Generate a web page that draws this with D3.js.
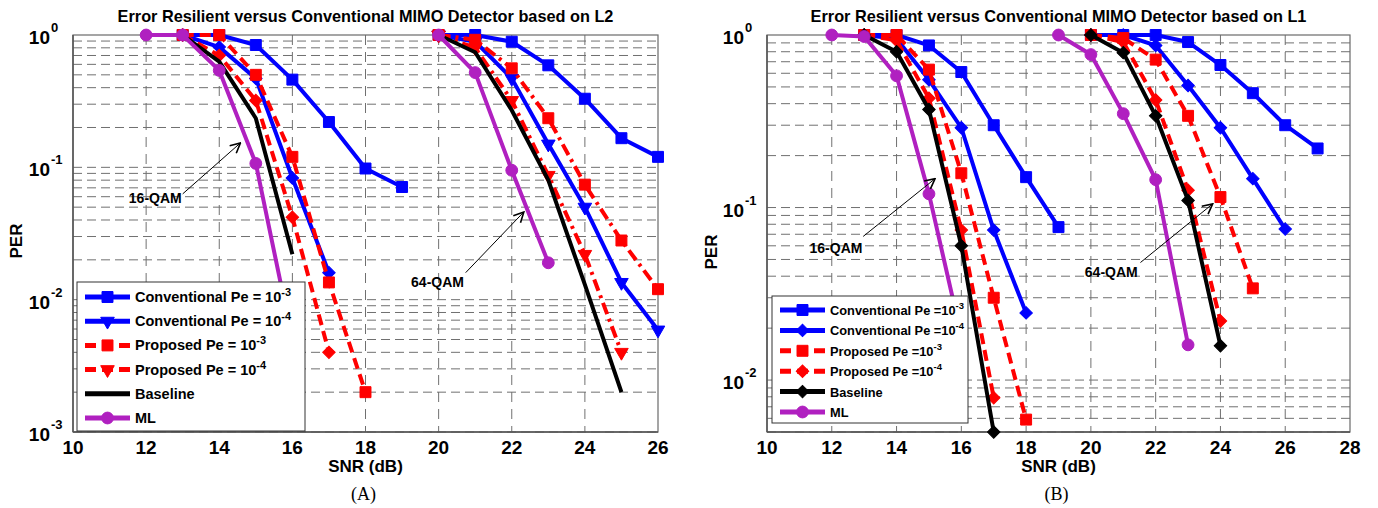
<!DOCTYPE html>
<html><head><meta charset="utf-8">
<script src="https://cdn.jsdelivr.net/npm/d3@7"></script>
<style>body{margin:0;background:#fff} svg{display:block}</style>
</head><body>
<svg id="c" width="1378" height="508"></svg>
<script>
// ---------- Panel A (L2) data: [SNR dB, PER] ----------
const a_conv3_16 = [[13,1],[14,1],[15,0.84],[16,0.46],[17,0.22],[18,0.098],[19,0.071]];
const a_conv3_64 = [[20,1],[21,1],[22,0.89],[23,0.59],[24,0.33],[25,0.166],[26,0.12]];
const a_conv4_16 = [[13,1],[14,0.81],[15,0.47],[16,0.083],[17,0.016]];
const a_conv4_64 = [[20,1],[21,0.89],[22,0.47],[23,0.15],[24,0.05],[25,0.0135],[26,0.0059]];
const a_prop3_16 = [[13,1],[14,1],[15,0.5],[16,0.12],[17,0.0135],[18,0.002]];
const a_prop3_64 = [[20,1],[21,0.92],[22,0.56],[23,0.235],[24,0.074],[25,0.028],[26,0.012]];
const a_prop4_16 = [[13,1],[14,0.7],[15,0.32],[16,0.042],[17,0.004]];
const a_prop4_64 = [[20,1],[21,0.8],[22,0.32],[23,0.087],[24,0.022],[25,0.004]];
const a_base_16  = [[13,1],[14,0.63],[15,0.235],[16,0.022]];
const a_base_64  = [[20,1],[21,0.74],[22,0.27],[23,0.08],[24,0.013],[25,0.002]];
const a_ml_16    = [[12,1],[13,1],[14,0.54],[15,0.107],[16,0.005]];
const a_ml_64    = [[20,1],[21,0.52],[22,0.095],[23,0.019]];

// ---------- Panel B (L1) data ----------
const b_conv3_16 = [[13,1],[14,1],[15,0.87],[16,0.61],[17,0.30],[18,0.15],[19,0.077]];
const b_conv3_64 = [[20,1],[21,1],[22,1],[23,0.91],[24,0.67],[25,0.46],[26,0.30],[27,0.22]];
const b_conv4_16 = [[13,1],[14,0.95],[15,0.55],[16,0.29],[17,0.074],[18,0.0245]];
const b_conv4_64 = [[20,1],[21,1],[22,0.87],[23,0.51],[24,0.29],[25,0.147],[26,0.075]];
const b_prop3_16 = [[13,1],[14,1],[15,0.63],[16,0.158],[17,0.030],[18,0.0059]];
const b_prop3_64 = [[20,1],[21,0.96],[22,0.72],[23,0.34],[24,0.115],[25,0.034]];
const b_prop4_16 = [[13,1],[14,0.93],[15,0.43],[16,0.074],[17,0.0079]];
const b_prop4_64 = [[20,1],[21,0.91],[22,0.42],[23,0.126],[24,0.022]];
const b_base_16  = [[13,1],[14,0.8],[15,0.37],[16,0.06],[17,0.005]];
const b_base_64  = [[20,1],[21,0.79],[22,0.34],[23,0.11],[24,0.0158]];
const b_ml_16    = [[12,1],[13,0.98],[14,0.58],[15,0.12],[16,0.018]];
const b_ml_64    = [[19,1],[20,0.77],[21,0.35],[22,0.145],[23,0.016]];

// ---------- ticks & labels ----------
const xTicksA = [10,12,14,16,18,20,22,24,26];
const xTicksB = [10,12,14,16,18,20,22,24,26,28];
const yTicksA = [1,0.1,0.01,0.001];
const yTicksB = [1,0.1,0.01];
const legendA = [["Conventional Pe = 10","-3"],["Conventional Pe = 10","-4"],["Proposed Pe = 10","-3"],["Proposed Pe = 10","-4"],["Baseline",""],["ML",""]];
const legendB = [["Conventional Pe =10","-3"],["Conventional Pe =10","-4"],["Proposed Pe =10","-3"],["Proposed Pe =10","-4"],["Baseline",""],["ML",""]];
const titleA = "Error Resilient versus Conventional MIMO Detector based on L2";
const titleB = "Error Resilient versus Conventional MIMO Detector based on L1";
// annotations: [label, textX, textY, fromX, fromY, toX, toY] in data units
const annA = [["16-QAM",12.25,0.059,13.0,0.063,14.58,0.153],["64-QAM",19.97,0.0136,20.74,0.016,22.33,0.046]];
const annB = [["16-QAM",12.13,0.058,12.97,0.068,15.19,0.147],["64-QAM",20.63,0.0425,21.53,0.048,23.76,0.105]];

const BLUE="#0000ff", RED="#ff0000", BLK="#000000", MAG="#b020c0";
const FONT="'Liberation Sans', Arial, sans-serif";
const svg = d3.select("#c");

const defs = svg.append("defs");
defs.append("marker").attr("id","arr").attr("viewBox","0 0 12 12").attr("refX",11).attr("refY",6)
  .attr("markerWidth",12).attr("markerHeight",12).attr("markerUnits","userSpaceOnUse").attr("orient","auto")
  .append("path").attr("d","M1,1 L11,6 L1,11").attr("fill","none").attr("stroke","#000").attr("stroke-width",1.6);

function symPath(kind){
  if(kind==="square") return {d:d3.symbol(d3.symbolSquare,120)(), rot:0};
  if(kind==="diamond") return {d:d3.symbol(d3.symbolSquare,78)(), rot:45};
  if(kind==="tri") return {d:d3.symbol(d3.symbolTriangle,80)(), rot:180};
  if(kind==="circle") return {d:d3.symbol(d3.symbolCircle,110)(), rot:0};
  return null;
}

function panel(cfg){
  const g = svg.append("g");
  const x = d3.scaleLinear().domain(cfg.xDom).range([cfg.x0,cfg.x1]);
  const y = d3.scaleLog().domain(cfg.yDom).range([cfg.y1,cfg.y0]);
  const [L,R,T,B] = [cfg.x0,cfg.x1,cfg.y0,cfg.y1];

  // grid: minor + major horizontal
  const lo = Math.floor(Math.log10(cfg.yDom[0]));
  const hl = [];
  for(let e=lo;e<0;e++) for(let m=1;m<10;m++){ const v=m*Math.pow(10,e); if(v>=cfg.yDom[0]-1e-12 && v<=1) hl.push(v); }
  g.append("g").selectAll("line").data(hl).join("line")
    .attr("x1",L).attr("x2",R).attr("y1",d=>y(d)).attr("y2",d=>y(d))
    .attr("stroke","#707070").attr("stroke-width",1).attr("stroke-dasharray","9,5");
  g.append("g").selectAll("line").data(cfg.xTicks.slice(1,-1)).join("line")
    .attr("x1",d=>x(d)).attr("x2",d=>x(d)).attr("y1",T).attr("y2",B)
    .attr("stroke","#707070").attr("stroke-width",1).attr("stroke-dasharray","10,7");
  g.append("rect").attr("x",L).attr("y",T).attr("width",R-L).attr("height",B-T)
    .attr("fill","none").attr("stroke","#6a6a6a").attr("stroke-width",1.2);
  g.append("line").attr("x1",L).attr("x2",R).attr("y1",B).attr("y2",B).attr("stroke","#555").attr("stroke-width",1.5);
  g.append("line").attr("x1",L).attr("x2",L).attr("y1",T).attr("y2",B).attr("stroke","#555").attr("stroke-width",1.5);

  // x tick labels
  g.append("g").selectAll("text").data(cfg.xTicks).join("text")
    .attr("x",d=>x(d)).attr("y",B+22).attr("text-anchor","middle")
    .attr("font-family",FONT).attr("font-weight","bold").attr("font-size",19).text(d=>d);
  // y tick labels 10^e
  cfg.yTicks.forEach(v=>{
    const e = Math.round(Math.log10(v));
    g.append("text").attr("x",L-23).attr("y",y(v)+9).attr("text-anchor","end")
      .attr("font-family",FONT).attr("font-weight","bold").attr("font-size",19).text("10");
    g.append("text").attr("x",L-22).attr("y",y(v)-3).attr("text-anchor","start")
      .attr("font-family",FONT).attr("font-weight","bold").attr("font-size",13).text(String(e));
  });
  // axis labels & title
  const cx = (L+R)/2;
  g.append("text").attr("x",cx).attr("y",22).attr("text-anchor","middle")
    .attr("font-family",FONT).attr("font-weight","bold").attr("font-size",16.3).text(cfg.title);
  g.append("text").attr("x",cx).attr("y",472).attr("text-anchor","middle")
    .attr("font-family",FONT).attr("font-weight","bold").attr("font-size",17).text("SNR (dB)");
  g.append("text").attr("transform",`translate(${cfg.perX},${cfg.perY}) rotate(-90)`).attr("text-anchor","middle")
    .attr("font-family",FONT).attr("font-weight","bold").attr("font-size",17).text("PER");
  g.append("text").attr("x",cx-2).attr("y",500).attr("text-anchor","middle")
    .attr("font-family","'Liberation Serif','Times New Roman',serif").attr("font-size",18).text(cfg.tag);

  // series
  const line = d3.line().x(d=>x(d[0])).y(d=>y(d[1]));
  cfg.series.forEach(s=>{
    s.segs.forEach(seg=>{
      g.append("path").attr("d",line(seg.data)).attr("fill","none").attr("stroke",s.color)
        .attr("stroke-width",4).attr("stroke-linejoin","round")
        .attr("stroke-dasharray",seg.dash||null);
      const sp = symPath(seg.marker);
      if(sp){
        g.append("g").selectAll("path").data(seg.data).join("path")
          .attr("d",sp.d).attr("transform",d=>`translate(${x(d[0])},${y(d[1])}) rotate(${sp.rot})`)
          .attr("fill",s.color).attr("stroke",s.color).attr("stroke-width",1);
      }
    });
  });

  // annotations
  cfg.ann.forEach(a=>{
    g.append("line").attr("x1",x(a[3])).attr("y1",y(a[4])).attr("x2",x(a[5])).attr("y2",y(a[6]))
      .attr("stroke","#000").attr("stroke-width",1).attr("marker-end","url(#arr)");
    g.append("text").attr("x",x(a[1])).attr("y",y(a[2])+5).attr("text-anchor","middle")
      .attr("font-family",FONT).attr("font-weight","bold").attr("font-size",cfg.annFont).text(a[0]);
  });

  // legend
  const lg = cfg.legend;
  g.append("rect").attr("x",lg.x).attr("y",lg.y).attr("width",lg.w).attr("height",lg.h)
    .attr("fill","#fff").attr("stroke","#333").attr("stroke-width",1);
  cfg.series.forEach((s,i)=>{
    const yy = lg.y + lg.first + i*lg.step;
    g.append("line").attr("x1",lg.x+lg.l0).attr("x2",lg.x+lg.l1).attr("y1",yy).attr("y2",yy)
      .attr("stroke",s.color).attr("stroke-width",5).attr("stroke-dasharray",s.legDash||null);
    const sp = symPath(s.legMarker);
    if(sp) g.append("path").attr("d",sp.d).attr("transform",`translate(${lg.x+(lg.l0+lg.l1)/2},${yy}) rotate(${sp.rot})`)
      .attr("fill",s.color).attr("stroke",s.color);
    const t = g.append("text").attr("x",lg.x+lg.tx).attr("y",yy+5)
      .attr("font-family",FONT).attr("font-weight","bold").attr("font-size",lg.fs);
    t.append("tspan").text(lg.labels[i][0]);
    if(lg.labels[i][1]) t.append("tspan").attr("dy",-6).attr("font-size",lg.sup).text(lg.labels[i][1]);
  });
}

const DASH="11,6", DASHDOT="12,5,3,5";
panel({
  xDom:[10,26], yDom:[0.001,1], x0:73, x1:658, y0:35, y1:432,
  xTicks:xTicksA, yTicks:yTicksA, title:titleA, tag:"(A)", perX:22, perY:241, ann:annA, annFont:14,
  series:[
    {color:BLUE, legMarker:"square", segs:[{data:a_conv3_16,marker:"square"},{data:a_conv3_64,marker:"square"}]},
    {color:BLUE, legMarker:"tri", segs:[{data:a_conv4_16,marker:"diamond"},{data:a_conv4_64,marker:"tri"}]},
    {color:RED, legMarker:"square", legDash:DASH, segs:[{data:a_prop3_16,marker:"square",dash:DASH},{data:a_prop3_64,marker:"square",dash:DASHDOT}]},
    {color:RED, legMarker:"tri", legDash:DASH, segs:[{data:a_prop4_16,marker:"diamond",dash:DASH},{data:a_prop4_64,marker:"tri",dash:DASHDOT}]},
    {color:BLK, legMarker:null, segs:[{data:a_base_16,marker:null},{data:a_base_64,marker:null}]},
    {color:MAG, legMarker:"circle", segs:[{data:a_ml_16,marker:"circle"},{data:a_ml_64,marker:"circle"}]}
  ],
  legend:{x:77,y:282,w:228,h:149,first:15,step:24.2,l0:8,l1:53,tx:58,fs:14.5,sup:11,labels:legendA}
});
panel({
  xDom:[10,28], yDom:[0.005,1], x0:767, x1:1350, y0:35, y1:432,
  xTicks:xTicksB, yTicks:yTicksB, title:titleB, tag:"(B)", perX:717, perY:252, ann:annB, annFont:14,
  series:[
    {color:BLUE, legMarker:"square", segs:[{data:b_conv3_16,marker:"square"},{data:b_conv3_64,marker:"square"}]},
    {color:BLUE, legMarker:"diamond", segs:[{data:b_conv4_16,marker:"diamond"},{data:b_conv4_64,marker:"diamond"}]},
    {color:RED, legMarker:"square", legDash:DASH, segs:[{data:b_prop3_16,marker:"square",dash:DASH},{data:b_prop3_64,marker:"square",dash:DASH}]},
    {color:RED, legMarker:"diamond", legDash:DASH, segs:[{data:b_prop4_16,marker:"diamond",dash:DASH},{data:b_prop4_64,marker:"diamond",dash:DASH}]},
    {color:BLK, legMarker:"diamond", segs:[{data:b_base_16,marker:"diamond"},{data:b_base_64,marker:"diamond"}]},
    {color:MAG, legMarker:"circle", segs:[{data:b_ml_16,marker:"circle"},{data:b_ml_64,marker:"circle"}]}
  ],
  legend:{x:772,y:296,w:196,h:127,first:14,step:20.4,l0:8,l1:53,tx:58,fs:12.8,sup:9.5,labels:legendB}
});
</script>
</body></html>
